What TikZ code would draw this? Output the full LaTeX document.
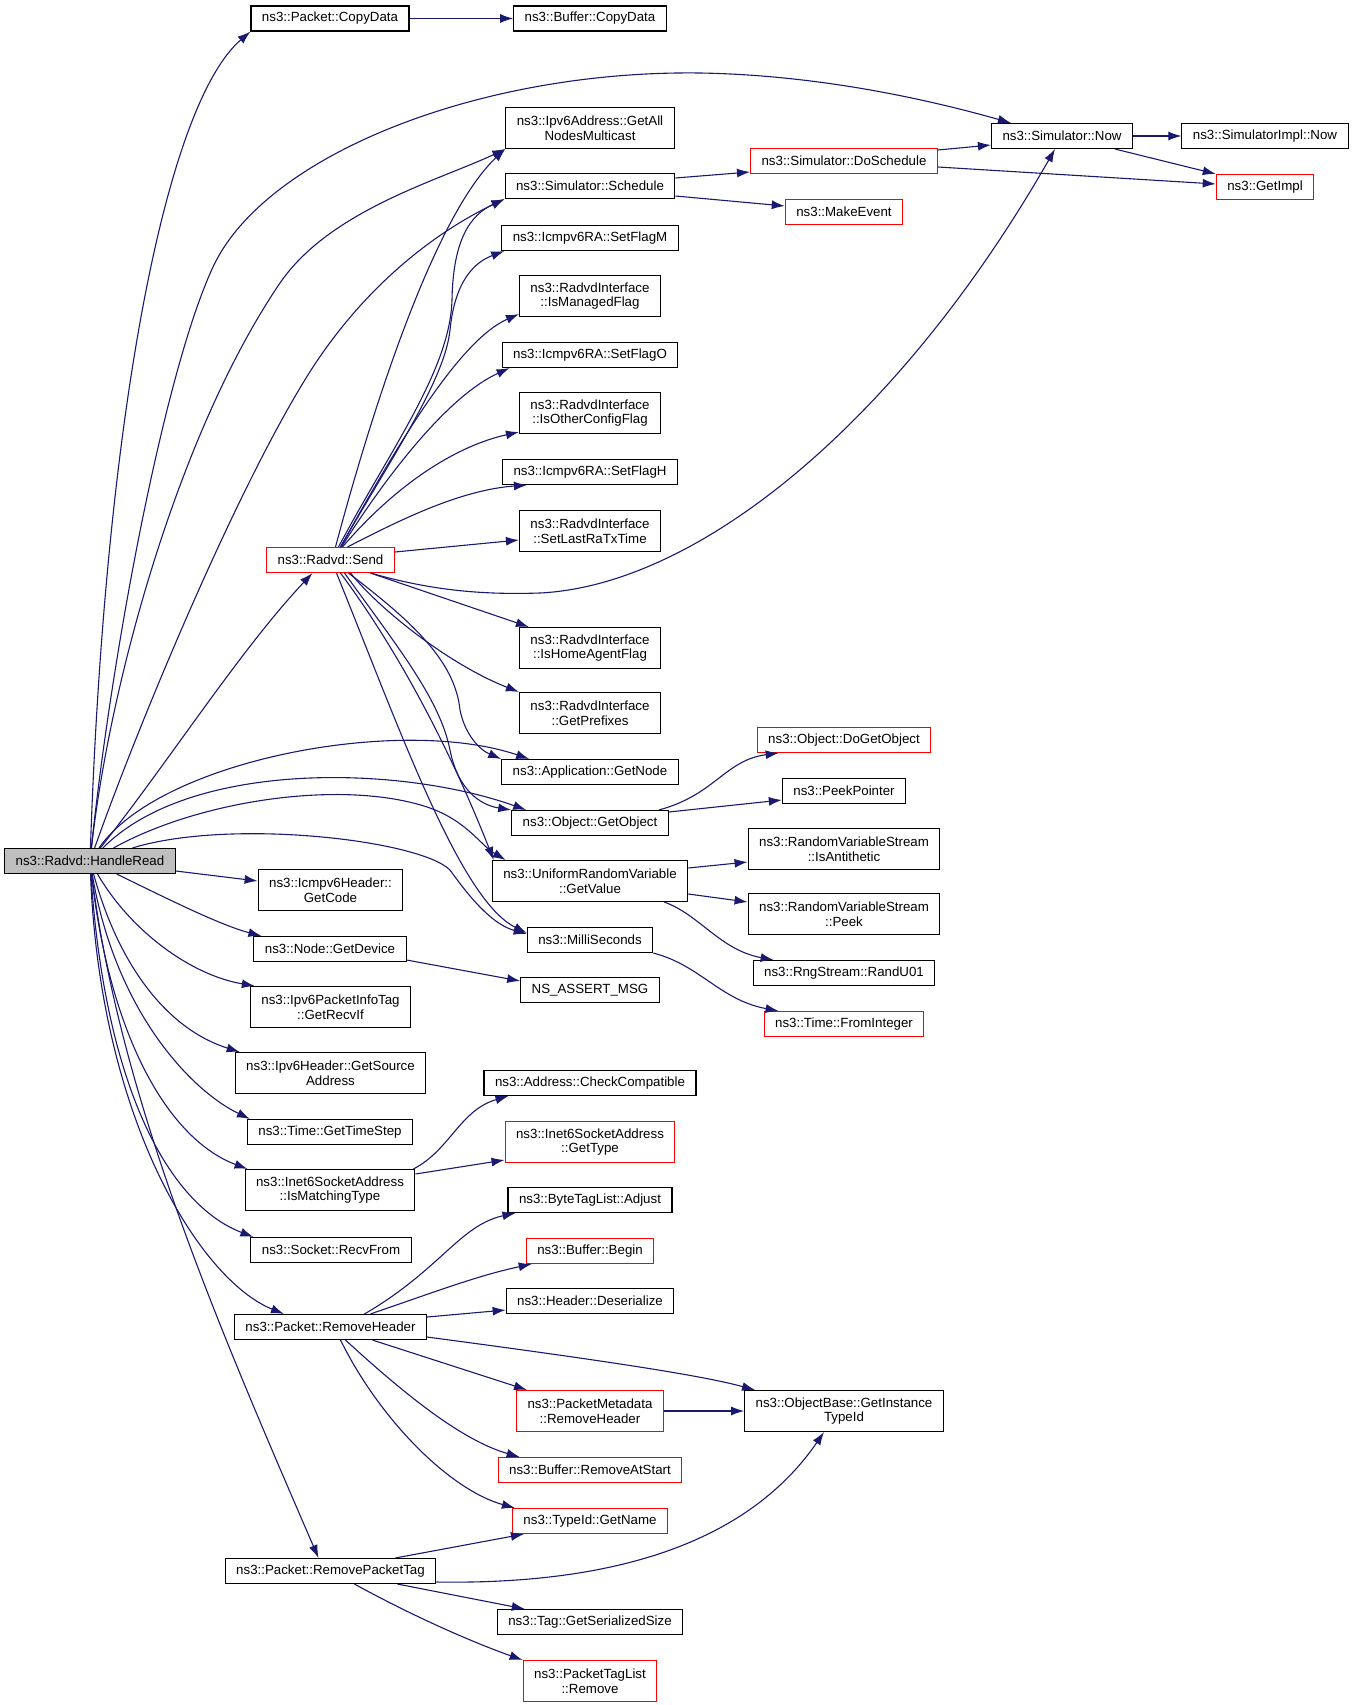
\documentclass[tikz,border=0pt]{standalone}
\usepackage{fontspec}
\setmainfont{Liberation Sans}
\usepackage{tikz}
\usetikzlibrary{arrows.meta}
\definecolor{linkblue}{HTML}{191970}
\definecolor{hlgray}{HTML}{BFBFBF}

\begin{document}
\begin{tikzpicture}[>={Latex[length=13pt,width=9pt]}, x=1pt, y=-1pt,
    call/.style={draw=black, rectangle, line width=1.1pt, inner xsep=11pt, inner ysep=3pt,
        minimum height=25pt, align=center, font=\fontsize{13.3}{14.5}\selectfont},
    callred/.style={call, draw=red},
    callmain/.style={call, fill=hlgray},
    twoline/.style={minimum height=41pt},
    link/.style={->, draw=linkblue, line width=1.1pt}]
    \useasboundingbox (0,0) rectangle (1355,1705);
        \path

        % caller
        +(90,861)    node[callmain] (hr) {ns3::Radvd::HandleRead}
        % 1st column
        +(330,18.5)  node[call] (copy) {ns3::Packet::CopyData}
        +(330.5,560) node[callred] (send) {ns3::Radvd::Send}
        +(330.5,890) node[call,twoline] (getcode) {ns3::Icmpv6Header::\\GetCode}
        +(330,949)   node[call] (getdevice) {ns3::Node::GetDevice}
        +(330.5,1007) node[call,twoline] (getrecvif) {ns3::Ipv6PacketInfoTag\\::GetRecvIf}
        +(330.5,1073) node[call,twoline] (getsource) {ns3::Ipv6Header::GetSource\\Address}
        +(330,1132)  node[call] (gettimestep) {ns3::Time::GetTimeStep}
        +(330,1190)  node[call,twoline] (ismatching) {ns3::Inet6SocketAddress\\::IsMatchingType}
        +(331,1250)  node[call] (recvfrom) {ns3::Socket::RecvFrom}
        +(330.5,1327) node[call] (removeheader) {ns3::Packet::RemoveHeader}
        +(330.5,1571) node[call] (removepackettag) {ns3::Packet::RemovePacketTag}
        % 2nd column
        +(590,18.5)  node[call] (bufcopy) {ns3::Buffer::CopyData}
        +(590,128)   node[call,twoline] (allnodes) {ns3::Ipv6Address::GetAll\\NodesMulticast}
        +(590,186)   node[call] (schedule) {ns3::Simulator::Schedule}
        +(590,238)   node[call] (setflagm) {ns3::Icmpv6RA::SetFlagM}
        +(590,296)   node[call,twoline] (ismanaged) {ns3::RadvdInterface\\::IsManagedFlag}
        +(590,355)   node[call] (setflago) {ns3::Icmpv6RA::SetFlagO}
        +(590,413)   node[call,twoline] (isother) {ns3::RadvdInterface\\::IsOtherConfigFlag}
        +(590,472)   node[call] (setflagh) {ns3::Icmpv6RA::SetFlagH}
        +(590,531)   node[call,twoline] (setlast) {ns3::RadvdInterface\\::SetLastRaTxTime}
        +(590,648)   node[call,twoline] (ishome) {ns3::RadvdInterface\\::IsHomeAgentFlag}
        +(590,713)   node[call,twoline] (getprefixes) {ns3::RadvdInterface\\::GetPrefixes}
        +(590,772)   node[call] (getnode) {ns3::Application::GetNode}
        +(590,823)   node[call] (getobject) {ns3::Object::GetObject}
        +(590,881)   node[call,twoline] (getvalue) {ns3::UniformRandomVariable\\::GetValue}
        +(590,940)   node[call] (milliseconds) {ns3::MilliSeconds}
        +(590,990)   node[call] (nsassert) {NS\_ASSERT\_MSG}
        +(590,1083)  node[call] (checkcompat) {ns3::Address::CheckCompatible}
        +(590,1142)  node[callred,twoline] (gettype) {ns3::Inet6SocketAddress\\::GetType}
        +(590,1200)  node[call] (adjust) {ns3::ByteTagList::Adjust}
        +(590,1251)  node[callred] (begin) {ns3::Buffer::Begin}
        +(590,1301)  node[call] (deserialize) {ns3::Header::Deserialize}
        +(590,1411)  node[callred,twoline] (pmremove) {ns3::PacketMetadata\\::RemoveHeader}
        +(590,1470)  node[callred] (removeatstart) {ns3::Buffer::RemoveAtStart}
        +(590,1521)  node[callred] (getname) {ns3::TypeId::GetName}
        +(590,1622)  node[call] (getsersize) {ns3::Tag::GetSerializedSize}
        +(590,1681)  node[callred,twoline] (ptlremove) {ns3::PacketTagList\\::Remove}
        % 3rd column
        +(844,161)   node[callred] (doschedule) {ns3::Simulator::DoSchedule}
        +(844,212)   node[callred] (makeevent) {ns3::MakeEvent}
        +(844,740)   node[callred] (dogetobject) {ns3::Object::DoGetObject}
        +(844,791)   node[call] (peekpointer) {ns3::PeekPointer}
        +(844,849)   node[call,twoline] (isanti) {ns3::RandomVariableStream\\::IsAntithetic}
        +(844,914)   node[call,twoline] (peek) {ns3::RandomVariableStream\\::Peek}
        +(844,973)   node[call] (randu01) {ns3::RngStream::RandU01}
        +(844,1024)  node[callred] (frominteger) {ns3::Time::FromInteger}
        +(844,1411)  node[call,twoline] (getinstance) {ns3::ObjectBase::GetInstance\\TypeId}
        % 4th and 5th column
        +(1062,136)  node[call] (now) {ns3::Simulator::Now}
        +(1265,136)  node[call] (implnow) {ns3::SimulatorImpl::Now}
        +(1265,187)  node[callred] (getimpl) {ns3::GetImpl};

        % calls of HandleRead
        \draw[link] (hr) .. controls (105,420) and (165,105) .. (copy.south west);
        \draw[link] (hr) .. controls (112,650) and (165,370) .. (213,267) .. controls (265,155) and (480,70) .. (700,73) .. controls (820,75) and (930,100) .. ([xshift=20pt]now.north west);
        \draw[link] (hr) .. controls (110,680) and (180,430) .. (280,283) .. controls (330,210) and (440,180) .. (allnodes.south west);
        \draw[link] (hr) .. controls (140,720) and (240,480) .. (313,367) .. controls (370,280) and (440,230) .. (schedule.south west);
        \draw[link] (hr) .. controls (170,760) and (240,650) .. ([xshift=-18pt]send.south);
        \draw[link] (hr) .. controls (160,760) and (400,715) .. ([xshift=28pt]getnode.north west);
        \draw[link] (hr) .. controls (190,760) and (400,765) .. ([xshift=15pt]getobject.north west);
        \draw[link] (hr) .. controls (200,800) and (340,780) .. (424,806) .. controls (466,819) and (480,845) .. ([xshift=14pt]getvalue.north west);
        \draw[link] (hr) .. controls (230,818) and (420,840) .. (450,870) .. controls (475,905) and (495,925) .. ([yshift=-7pt]milliseconds.north west);
        \draw[link] ([yshift=-10pt]hr.east) -- ([yshift=9pt]getcode.west);
        \draw[link] (hr) .. controls (170,900) and (220,925) .. ([xshift=8pt]getdevice.north west);
        \draw[link] (hr) .. controls (130,930) and (190,975) .. ([xshift=5pt]getrecvif.north west);
        \draw[link] (hr) .. controls (120,970) and (170,1030) .. ([xshift=5pt]getsource.north west);
        \draw[link] (hr) .. controls (115,1010) and (190,1090) .. ([xshift=3pt]gettimestep.north west);
        \draw[link] (hr) .. controls (110,1040) and (170,1140) .. ([xshift=3pt]ismatching.north west);
        \draw[link] (hr) .. controls (105,1090) and (170,1205) .. ([xshift=3pt]recvfrom.north west);
        \draw[link] (hr) .. controls (100,1120) and (200,1280) .. ([xshift=50pt]removeheader.north west);
        \draw[link] (hr) .. controls (120,1100) and (220,1330) .. ([xshift=-12pt]removepackettag.north);

        % calls of Send
        \draw[link] ([xshift=5pt]send.north) .. controls (380,380) and (440,210) .. (allnodes.south west);
        \draw[link] ([xshift=8pt]send.north) .. controls (390,450) and (450,370) .. (452,300) .. controls (453,240) and (470,215) .. (schedule.south west);
        \draw[link] ([xshift=10pt]send.north) .. controls (390,460) and (445,380) .. (450,330) .. controls (455,280) and (475,262) .. ([xshift=3pt]setflagm.south west);
        \draw[link] ([xshift=10pt]send.north) .. controls (400,440) and (460,340) .. ([yshift=3pt]ismanaged.south west);
        \draw[link] ([xshift=11pt]send.north) .. controls (390,470) and (450,395) .. ([xshift=8pt]setflago.south west);
        \draw[link] ([xshift=12pt]send.north) .. controls (400,480) and (460,445) .. ([yshift=2pt]isother.south west);
        \draw[link] ([xshift=17pt]send.north) .. controls (400,520) and (460,490) .. ([xshift=25pt]setflagh.south west);
        \draw[link] ([yshift=8pt]send.east) -- ([yshift=-9pt]setlast.west);
        \draw[link] ([xshift=40pt]send.south) .. controls (430,590) and (480,595) .. (540,593) .. controls (700,585) and (900,420) .. ([xshift=-7pt]now.south);
        \draw[link] ([xshift=40pt]send.south) -- ([xshift=10pt]ishome.north west);
        \draw[link] ([xshift=20pt]send.south) .. controls (380,610) and (450,665) .. (getprefixes.north west);
        \draw[link] ([xshift=18pt]send.south) .. controls (410,620) and (455,660) .. (460,710) .. controls (465,735) and (480,750) .. (getnode.north west);
        \draw[link] ([xshift=14pt]send.south) .. controls (400,650) and (440,700) .. (450,750) .. controls (458,790) and (480,805) .. (getobject.north west);
        \draw[link] ([xshift=10pt]send.south) .. controls (420,680) and (470,800) .. ([xshift=2pt]getvalue.north west);
        \draw[link] ([xshift=6pt]send.south) .. controls (400,730) and (460,900) .. ([yshift=-6pt]milliseconds.north west);

        % further calls
        \draw[link] (copy) -- (bufcopy);
        \draw[link] ([yshift=8pt]schedule.east) -- ([yshift=-11pt]doschedule.west);
        \draw[link] ([yshift=-10pt]schedule.east) -- ([yshift=6pt]makeevent.west);
        \draw[link] ([yshift=11pt]doschedule.east) -- ([yshift=-9pt]now.west);
        \draw[link] ([yshift=-6pt]doschedule.east) -- ([yshift=3pt]getimpl.west);
        \draw[link] (now) -- (implnow);
        \draw[link] ([xshift=-18pt]now.south east) -- (getimpl.north west);
        \draw[link] ([xshift=-10pt]getobject.north east) .. controls (715,795) and (725,760) .. ([xshift=22pt]dogetobject.south west);
        \draw[link] ([yshift=11pt]getobject.east) -- ([yshift=-9pt]peekpointer.west);
        \draw[link] ([yshift=13pt]getvalue.east) -- ([yshift=-13pt]isanti.west);
        \draw[link] ([yshift=-13pt]getvalue.east) -- ([yshift=12pt]peek.west);
        \draw[link] ([xshift=-24pt]getvalue.south east) .. controls (700,915) and (720,950) .. ([xshift=21pt]randu01.north west);
        \draw[link] (milliseconds.south east) .. controls (700,965) and (720,1000) .. ([xshift=15pt]frominteger.north west);
        \draw[link] ([yshift=-11pt]getdevice.east) -- ([yshift=9pt]nsassert.west);
        \draw[link] ([xshift=-2pt]ismatching.north east) .. controls (450,1150) and (460,1110) .. ([xshift=25pt]checkcompat.south west);
        \draw[link] ([yshift=16pt]ismatching.east) -- ([yshift=-18pt]gettype.west);
        \draw[link] ([xshift=34pt]removeheader.north) .. controls (440,1270) and (460,1225) .. ([xshift=8pt]adjust.south west);
        \draw[link] ([xshift=40pt]removeheader.north) .. controls (440,1290) and (480,1275) .. ([xshift=6pt]begin.south west);
        \draw[link] ([yshift=10pt]removeheader.east) -- ([yshift=-9pt]deserialize.west);
        \draw[link] ([yshift=-10pt]removeheader.east) .. controls (600,1360) and (700,1375) .. ([xshift=11pt]getinstance.north west);
        \draw[link] ([xshift=42pt]removeheader.south) -- ([xshift=11pt]pmremove.north west);
        \draw[link] ([xshift=15pt]removeheader.south) .. controls (400,1390) and (460,1440) .. ([xshift=22pt]removeatstart.north west);
        \draw[link] ([xshift=10pt]removeheader.south) .. controls (380,1420) and (450,1490) .. ([xshift=3pt]getname.north west);
        \draw[link] (pmremove) -- (getinstance);
        \draw[link] ([xshift=65pt]removepackettag.north) -- ([xshift=12pt]getname.south west);
        \draw[link] ([yshift=-11pt]removepackettag.east) .. controls (620,1585) and (750,1540) .. ([xshift=-20pt]getinstance.south);
        \draw[link] ([xshift=67pt]removepackettag.south) -- ([xshift=28pt]getsersize.north west);
        \draw[link] ([xshift=24pt]removepackettag.south) .. controls (420,1620) and (480,1645) .. (ptlremove.north west);
    \end{tikzpicture}
\end{document}
